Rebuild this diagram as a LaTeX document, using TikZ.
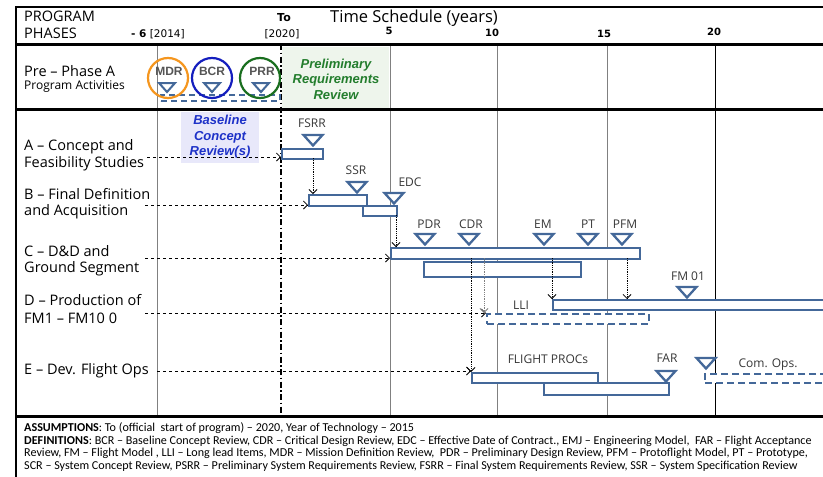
\documentclass[tikz,border=0pt]{standalone}
\usepackage{fontspec}
\setmainfont{Carlito}
\newfontfamily\osans{Open Sans}
\newfontfamily\arial{Liberation Sans}
\newfontfamily\dvs{DejaVu Sans}
\usetikzlibrary{arrows.meta}
\definecolor{barblue}{RGB}{68,104,153}
\definecolor{mdrorange}{RGB}{245,150,30}
\definecolor{bcrblue}{RGB}{20,30,190}
\definecolor{prrgreen}{RGB}{25,110,30}
\definecolor{prrtext}{RGB}{35,125,45}
\definecolor{prrfill}{RGB}{238,245,236}
\definecolor{bcfill}{RGB}{232,232,250}
\definecolor{bctext}{RGB}{30,50,200}
\definecolor{mstext}{RGB}{55,55,55}
\definecolor{circtext}{RGB}{85,85,85}
\begin{document}
\begin{tikzpicture}[x=1pt,y=-1pt,
  bar/.style={draw=barblue, line width=2.3pt, inner sep=0pt, anchor=north west, fill=white},
  dbar/.style={bar, dash pattern=on 7pt off 4pt},
  tri/.pic={\draw[barblue, line width=2.3pt, line join=miter, fill=white] (-9.5,0)--(9.5,0)--(0,10.5)--cycle;},
  smalltri/.pic={\draw[barblue, line width=2pt, line join=miter, fill=white] (-8,0)--(8,0)--(0,9)--cycle;},
  ms/.style={font=\osans\fontsize{12}{13}\selectfont, text=mstext, inner sep=0pt},
  rowlab/.style={font=\osans\fontsize{14.5}{15}\selectfont, anchor=west, inner sep=0pt},
  hdr/.style={font=\osans\fontsize{14.5}{15}\selectfont, anchor=west, inner sep=0pt},
  num/.style={font=\dvs\bfseries\fontsize{10}{11}\selectfont, inner sep=0pt},
  foot/.style={font=\fontsize{12.1}{12}\selectfont, anchor=west, inner sep=0pt},
  feed/.style={dashed, line width=0.8pt, -{Straight Barb[length=4pt,width=8pt]}},
  drop/.style={densely dotted, line width=0.8pt, -{Straight Barb[length=4pt,width=8pt]}},
  gridl/.style={line width=1pt, draw=gray},
  circ/.style={circle, draw, line width=2.2pt, minimum size=40pt, inner sep=0pt},
  circlab/.style={font=\arial\bfseries\fontsize{12}{12}\selectfont, text=circtext, inner sep=0pt},
  boxtext/.style={font=\arial\bfseries\itshape\fontsize{13}{15.5}\selectfont, align=center, inner sep=0pt}
]
\useasboundingbox (0,0) rectangle (823,477);
\clip (0,0) rectangle (823,477);
\fill[white] (0,0) rectangle (823,477);

% shaded boxes
\fill[prrfill] (282,47) rectangle (389,108);
\fill[bcfill] (181,112) rectangle (259,163);

% grid lines
\draw[gridl] (157,44) -- (157,416);
\draw[gridl] (390,44) -- (390,416);
\draw[gridl] (497,44) -- (497,416);
\draw[gridl] (607,44) -- (607,416);
\draw[line width=1pt] (715,44) -- (715,416);
\draw[line width=1.5pt, dash pattern=on 6pt off 2.5pt on 1.5pt off 2.5pt] (281,44) -- (281,416);

% frame
\draw[line width=2pt] (16,7) -- (830,7);
\draw[line width=2.5pt] (16,6) -- (16,480);
\draw[line width=3pt] (15,44) -- (830,44);
\draw[line width=3pt] (15,109) -- (830,109);
\draw[line width=3pt] (15,416) -- (830,416);

% header
\node[hdr] (prog) at (24,16) {PROGRAM};
\node[hdr] (phases) at (24,33) {PHASES};
\node[anchor=west, inner sep=0pt, font=\dvs\fontsize{10.5}{11}\selectfont] (m6) at (131,34) {\textbf{- 6} [2014]};
\node[inner sep=0pt, font=\dvs\bfseries\fontsize{11}{12}\selectfont] (to) at (284,18) {To};
\node[inner sep=0pt, font=\dvs\fontsize{10.5}{11}\selectfont] (y2020) at (282,34) {[2020]};
\node[anchor=west, inner sep=0pt, font=\osans\fontsize{16.5}{17}\selectfont] (title) at (330,18) {Time Schedule (years)};
\node[num] (t5) at (389,31) {5};
\node[num] (t10) at (492,33) {10};
\node[num] (t15) at (604,34) {15};
\node[num] (t20) at (714,32) {20};

% pre-phase row
\node[rowlab] (pre) at (24,71) {Pre – Phase A};
\node[rowlab, font=\osans\fontsize{12}{13}\selectfont] (preact) at (24,87) {Program Activities};
\node[bar, dash pattern=on 6pt off 4pt, line width=2pt, minimum width=119pt, minimum height=6pt, fill=none] (predash) at (160,94) {};
\node[circ, draw=mdrorange] (mdrc) at (168,78) {};
\node[circ, draw=bcrblue] (bcrc) at (212,78) {};
\node[circ, draw=prrgreen] (prrc) at (260,78) {};
\node[circlab] (mdr) at (169,71) {MDR};
\node[circlab] (bcr) at (212,71) {BCR};
\node[circlab] (prr) at (262,71) {PRR};
\pic at (167,83) {smalltri};
\pic at (212,83) {smalltri};
\pic at (261,83) {smalltri};
\node[boxtext, text=prrtext] (prrbox) at (336,79) {Preliminary\\Requirements\\Review};
\node[boxtext, text=bctext] (bcbox) at (220,137) {Baseline\\Concept\\Review(s)};

% row labels
\node[rowlab] (la1) at (24,147) {A – Concept and};
\node[rowlab] (la2) at (24,164) {Feasibility Studies};
\node[rowlab] (lb1) at (24,194) {B – Final Definition};
\node[rowlab] (lb2) at (24,212) {and Acquisition};
\node[rowlab] (lc1) at (24,251) {C – D\&D and};
\node[rowlab] (lc2) at (24,269) {Ground Segment};
\node[rowlab] (ld1) at (24,300) {D – Production of};
\node[rowlab] (ld2) at (24,318) {FM1 – FM10 0};
\node[rowlab] (le1) at (24,371) {E – Dev. Flight Ops};

% bars
\node[bar, minimum width=41pt, minimum height=10pt] (fsrr) at (281,148) {};
\node[bar, minimum width=58pt, minimum height=11pt] (b1) at (308,194) {};
\node[bar, minimum width=34pt, minimum height=10pt] (b2) at (362,205) {};
\node[bar, minimum width=249pt, minimum height=11pt] (c1) at (390,247) {};
\node[bar, minimum width=157pt, minimum height=15pt] (c2) at (423,261) {};
\node[dbar, minimum width=162pt, minimum height=10pt] (lli) at (486,313) {};
\node[bar, line width=1.8pt, minimum width=300pt, minimum height=10pt] (fm) at (552,299) {};
\node[bar, minimum width=126pt, minimum height=10pt] (e1) at (471,372) {};
\node[bar, minimum width=125pt, minimum height=12pt] (e2) at (543,382) {};
\node[dbar, minimum width=150pt, minimum height=9pt] (com) at (704,373) {};

% milestones
\pic at (313,135) {tri};
\pic at (357,182) {tri};
\pic at (394,193) {tri};
\pic at (425,234) {tri};
\pic at (469,234) {tri};
\pic at (544,234) {tri};
\pic at (588,234) {tri};
\pic at (622,234) {tri};
\pic at (687,287) {tri};
\pic at (666,371) {tri};
\pic at (706,358) {tri};

\node[ms] (lfsrr) at (312,123) {FSRR};
\node[ms] (lssr) at (356,170) {SSR};
\node[ms] (ledc) at (410,182) {EDC};
\node[ms] (lpdr) at (429,224) {PDR};
\node[ms] (lcdr) at (471,224) {CDR};
\node[ms] (lem) at (543,224) {EM};
\node[ms] (lpt) at (588,224) {PT};
\node[ms] (lpfm) at (625,224) {PFM};
\node[ms] (lfm) at (688,276) {FM 01};
\node[ms] (llli) at (521,305) {LLI};
\node[ms] (lfp) at (548,359) {FLIGHT PROCs};
\node[ms] (lfar) at (667,358) {FAR};
\node[ms] (lcom) at (768,365) {Com. Ops.};

% connectors
\coordinate (afs) at (147,157);
\coordinate (bfs) at (145,205);
\coordinate (cfs) at (145,258);
\coordinate (dfs) at (145,313);
\coordinate (efs) at (157,371);
\coordinate (fsd) at (313,158);
\coordinate (edd) at (396,215);
\coordinate (lld) at (484,258);
\coordinate (cdd) at (471,258);
\coordinate (emd) at (552,258);
\coordinate (pfd) at (627,258);

\draw[feed] (afs) -- (afs -| fsrr.west);
\draw[feed] (bfs) -- (bfs -| b1.west);
\draw[feed] (cfs) -- (cfs -| c1.west);
\draw[feed] (dfs) -- (dfs -| lli.west);
\draw[feed] (efs) -- (efs -| e1.west);
\draw[drop] (fsd) -- (fsd |- b1.north);
\draw[drop] (edd) -- (edd |- c1.north);
\draw[drop, gray] (lld) -- (lld |- lli.north);
\draw[drop] (cdd) -- (cdd |- e1.north);
\draw[drop] (emd) -- (emd |- fm.north);
\draw[drop] (pfd) -- (pfd |- fm.north);

% footer
\node[foot] (f1) at (24,428) {\textbf{ASSUMPTIONS}: To (official\ \ start of program) – 2020, Year of Technology – 2015};
\node[foot] (f2) at (24,441) {\textbf{DEFINITIONS}: BCR – Baseline Concept Review, CDR – Critical Design Review, EDC – Effective Date of Contract., EMJ – Engineering Model,\ \ FAR – Flight Acceptance};
\node[foot] (f3) at (24,453) {Review, FM – Flight Model , LLI – Long lead Items, MDR – Mission Definition Review,\ \ PDR – Preliminary Design Review, PFM – Protoflight Model, PT – Prototype,};
\node[foot] (f4) at (24,466) {SCR – System Concept Review, PSRR – Preliminary System Requirements Review, FSRR – Final System Requirements Review, SSR – System Specification Review};
\end{tikzpicture}
\end{document}
